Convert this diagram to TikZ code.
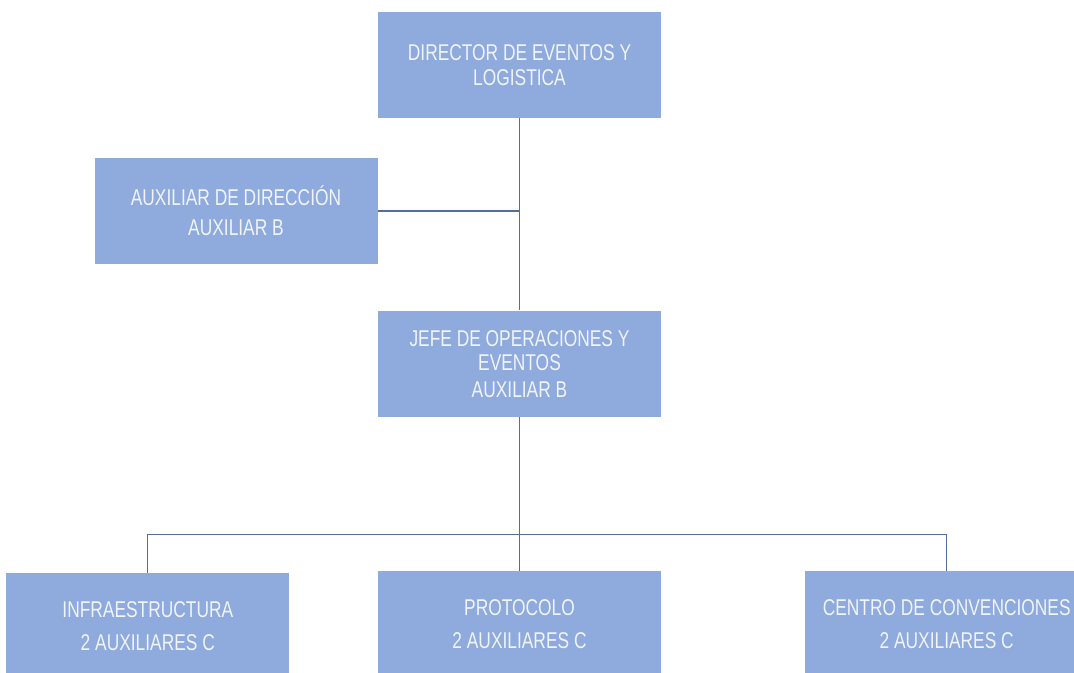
\documentclass[tikz,border=0pt]{standalone}
\usepackage{fontspec}
\usepackage{tikz}
\usetikzlibrary{positioning, calc}
\newfontfamily\orgfont[FakeStretch=0.76]{Liberation Sans}
\definecolor{boxblue}{RGB}{143,170,220}
\definecolor{boxtext}{RGB}{240,244,252}
\definecolor{linkgray}{RGB}{85,110,150}

\begin{document}
\begin{tikzpicture}[
  node distance=3.84cm and 1.76cm,
  orgbox/.style={fill=boxblue, draw=none, minimum width=5.66cm,
                 minimum height=2.12cm, inner sep=0pt, align=center,
                 text=boxtext, font=\orgfont\fontsize{13}{14}\selectfont},
  link/.style={draw=linkgray, line width=0.6pt},
]
\useasboundingbox (0,0) rectangle (21.48,-13.46);
\clip (0,0) rectangle (21.48,-13.46);

%% Top levels
\node[orgbox] (dir) at (10.39,-1.30) {DIRECTOR DE EVENTOS Y\\LOGISTICA};
\node[orgbox] (aux) at (4.72,-4.22) {AUXILIAR DE DIRECCIÓN\\[3pt]AUXILIAR B};
\node[orgbox, below=3.84cm of dir] (jefe) {JEFE DE OPERACIONES Y\\EVENTOS\\[1pt]AUXILIAR B};

%% Bottom row
\node[orgbox, below=3.08cm of jefe] (prot) {PROTOCOLO\\[5pt]2 AUXILIARES C};
\node[orgbox, left=1.76cm of prot, yshift=-0.04cm] (infra) {INFRAESTRUCTURA\\[5pt]2 AUXILIARES C};
\node[orgbox, right=2.87cm of prot] (centro) {CENTRO DE CONVENCIONES\\[5pt]2 AUXILIARES C};

%% Connectors
\coordinate (bus) at ($(jefe.south)+(0,-2.34)$);
\draw[link] (dir) -- (jefe);
\draw[link] (aux.east) -- (aux.east -| dir.south);
\draw[link] (jefe) -- (prot);
\draw[link] (infra.north) |- (bus) -| (centro.north);

\end{tikzpicture}
\end{document}
